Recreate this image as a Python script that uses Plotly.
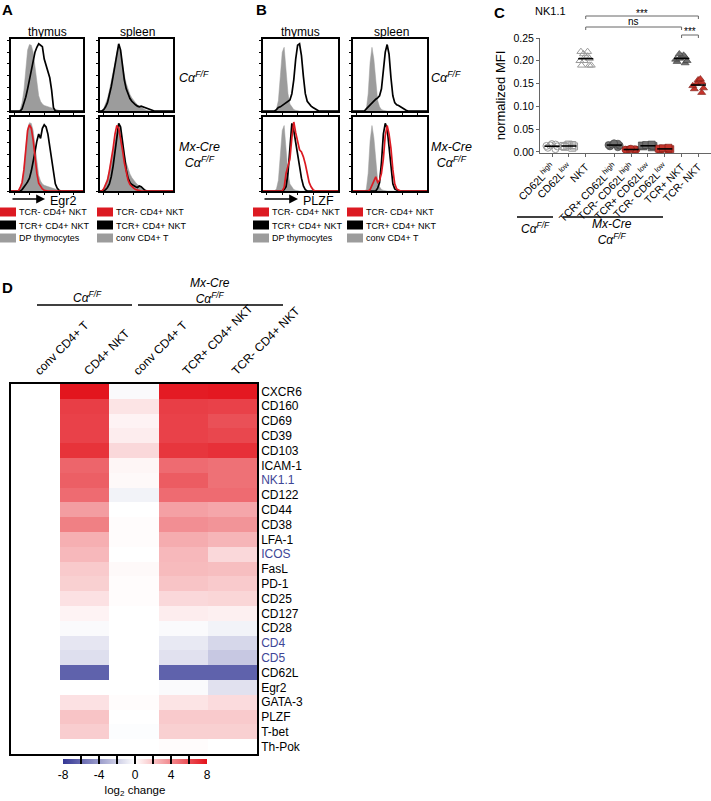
import plotly.graph_objects as go
import numpy as np

W, H = 711, 801
FONT = "Arial, 'Liberation Sans', Helvetica, sans-serif"

# ---------------- Panels A & B: flow histograms (relative cell counts per fluorescence bin)
BINS = list(range(40))

EGR2_THY_DP = [0, 0, 0, 0, 0, 2, 12, 30, 62, 88, 96, 95, 85, 65, 40, 22, 14, 10, 8, 7,
               6, 5, 4, 3, 2, 1, 0, 0, 0, 0, 0, 0, 0, 0, 0, 0, 0, 0, 0, 0]
EGR2_THY_NKT_CTRL = [0, 0, 0, 0, 0, 0, 3, 10, 20, 32, 45, 60, 72, 85, 92, 97, 95, 93, 75, 65,
                     58, 48, 30, 5, 0, 0, 0, 0, 0, 0, 0, 0, 0, 0, 0, 0, 0, 0, 0, 0]
EGR2_SPL_CONV = [0, 1, 4, 10, 18, 30, 42, 55, 70, 85, 94, 85, 65, 52, 40, 30, 24, 19, 15, 12,
                 9, 7, 5, 3, 2, 1, 0, 0, 0, 0, 0, 0, 0, 0, 0, 0, 0, 0, 0, 0]
EGR2_SPL_NKT_CTRL = [0, 0, 2, 6, 12, 22, 35, 50, 68, 85, 97, 88, 62, 45, 32, 24, 18, 14, 11, 9,
                     7, 6, 7, 6, 4, 3, 2, 1, 0, 0, 0, 0, 0, 0, 0, 0, 0, 0, 0, 0]
EGR2_THY_TCRP = [0, 0, 0, 0, 0, 0, 2, 5, 9, 13, 18, 28, 40, 55, 70, 80, 74, 88, 93, 90,
                 80, 62, 45, 22, 10, 4, 1, 0, 0, 0, 0, 0, 0, 0, 0, 0, 0, 0, 0, 0]
EGR2_THY_TCRN = [0, 0, 0, 0, 0, 5, 12, 30, 55, 85, 93, 88, 72, 45, 25, 11, 6, 3, 1, 0,
                 0, 0, 0, 0, 0, 0, 0, 0, 0, 0, 0, 0, 0, 0, 0, 0, 0, 0, 0, 0]
EGR2_SPL_TCRP = [0, 0, 0, 2, 5, 10, 20, 35, 55, 78, 95, 90, 70, 50, 30, 18, 12, 9, 7, 6,
                 5, 7, 6, 3, 1, 0, 0, 0, 0, 0, 0, 0, 0, 0, 0, 0, 0, 0, 0, 0]
EGR2_SPL_TCRN = [0, 0, 3, 8, 15, 28, 42, 60, 80, 92, 88, 75, 58, 40, 25, 15, 9, 6, 4, 2,
                 1, 0, 0, 0, 0, 0, 0, 0, 0, 0, 0, 0, 0, 0, 0, 0, 0, 0, 0, 0]

PLZF_THY_DP = [0, 0, 0, 0, 0, 0, 0, 3, 15, 50, 85, 92, 60, 25, 10, 5, 2, 1, 0, 0,
               0, 0, 0, 0, 0, 0, 0, 0, 0, 0, 0, 0, 0, 0, 0, 0, 0, 0, 0, 0]
PLZF_THY_NKT_CTRL = [0, 0, 0, 0, 0, 0, 0, 2, 5, 6, 8, 9, 11, 13, 16, 25, 45, 75, 95, 97,
                     80, 50, 25, 14, 10, 7, 5, 3, 1, 0, 0, 0, 0, 0, 0, 0, 0, 0, 0, 0]
PLZF_SPL_CONV = [0, 0, 0, 0, 0, 0, 0, 2, 25, 70, 92, 75, 40, 15, 6, 2, 1, 0, 0, 0,
                 0, 0, 0, 0, 0, 0, 0, 0, 0, 0, 0, 0, 0, 0, 0, 0, 0, 0, 0, 0]
PLZF_SPL_NKT_CTRL = [0, 0, 0, 0, 0, 0, 0, 3, 6, 9, 12, 15, 17, 19, 22, 32, 55, 85, 96, 82,
                     48, 22, 12, 9, 8, 6, 4, 2, 1, 0, 0, 0, 0, 0, 0, 0, 0, 0, 0, 0]
PLZF_THY_TCRP = [0, 0, 0, 0, 0, 0, 0, 0, 0, 0, 0, 2, 6, 25, 60, 95, 85, 70, 50, 35,
                 18, 7, 2, 0, 0, 0, 0, 0, 0, 0, 0, 0, 0, 0, 0, 0, 0, 0, 0, 0]
PLZF_THY_TCRN = [0, 0, 0, 0, 0, 0, 0, 0, 0, 0, 0, 5, 25, 35, 45, 75, 97, 82, 70, 58,
                 55, 48, 38, 25, 12, 6, 2, 0, 0, 0, 0, 0, 0, 0, 0, 0, 0, 0, 0, 0]
PLZF_SPL_TCRP = [0, 0, 0, 0, 0, 0, 0, 0, 0, 0, 0, 0, 0, 4, 12, 40, 80, 95, 88, 62,
                 30, 10, 3, 1, 0, 0, 0, 0, 0, 0, 0, 0, 0, 0, 0, 0, 0, 0, 0, 0]
PLZF_SPL_TCRN = [0, 0, 0, 0, 0, 0, 0, 0, 0, 2, 8, 15, 20, 12, 15, 25, 45, 78, 92, 80,
                 60, 30, 10, 3, 1, 0, 0, 0, 0, 0, 0, 0, 0, 0, 0, 0, 0, 0, 0, 0]

LEGEND_LEFT = ["TCR- CD4+ NKT", "TCR+ CD4+ NKT", "DP thymocytes"]
LEGEND_RIGHT = ["TCR- CD4+ NKT", "TCR+ CD4+ NKT", "conv CD4+ T"]

# ---------------- Panel C: NK1.1 normalized MFI
C_CATS = ["CD62L<sup>high</sup>", "CD62L<sup>low</sup>", "NKT",
          "TCR+ CD62L<sup>high</sup>", "TCR- CD62L<sup>high</sup>",
          "TCR+ CD62L<sup>low</sup>", "TCR- CD62L<sup>low</sup>",
          "TCR+ NKT", "TCR- NKT"]
C_VALUES = [
    [0.006, 0.009, 0.012, 0.014, 0.016, 0.017, 0.013],
    [0.009, 0.011, 0.013, 0.014, 0.015, 0.016, 0.012],
    [0.19, 0.19, 0.19, 0.20, 0.20, 0.205, 0.21, 0.21, 0.215, 0.22, 0.22],
    [0.010, 0.012, 0.014, 0.015, 0.016, 0.018, 0.019],
    [0.003, 0.004, 0.005, 0.005, 0.006, 0.006, 0.007],
    [0.010, 0.012, 0.013, 0.014, 0.015, 0.016],
    [0.004, 0.005, 0.006, 0.007, 0.008, 0.009],
    [0.195, 0.198, 0.20, 0.203, 0.205, 0.208, 0.21, 0.212, 0.215],
    [0.13, 0.138, 0.14, 0.145, 0.15, 0.153, 0.158, 0.16],
]
C_YTICKS = [0.0, 0.05, 0.10, 0.15, 0.20, 0.25]

# ---------------- Panel D: heatmap of log2 change
D_MARKERS = ["CXCR6", "CD160", "CD69", "CD39", "CD103", "ICAM-1", "NK1.1", "CD122", "CD44",
             "CD38", "LFA-1", "ICOS", "FasL", "PD-1", "CD25", "CD127", "CD28", "CD4", "CD5",
             "CD62L", "Egr2", "GATA-3", "PLZF", "T-bet", "Th-Pok"]
D_HIGHLIGHT = ["NK1.1", "ICOS", "CD4", "CD5"]
D_COLUMNS = ["conv CD4+ T", "CD4+ NKT", "conv CD4+ T", "TCR+ CD4+ NKT", "TCR- CD4+ NKT"]
D_CONV_CTRL = [0, 0, 0, 0, 0, 0, 0, 0, 0, 0, 0, 0, 0, 0, 0, 0, 0, 0, 0, 0, 0, 0, 0, 0, 0]
D_NKT_CTRL = [7.9, 6.5, 6.4, 6.4, 6.9, 5.2, 5.4, 5.0, 3.3, 4.3, 2.7, 2.4, 1.8, 1.6, 1.0,
              0.4, -0.2, -1.0, -1.3, -6.3, 0.0, 1.0, 2.0, 1.7, 0.0]
D_CONV_MX = [-0.2, 0.9, 0.4, 0.6, 1.3, 0.3, 0.2, -0.5, 0.0, 0.1, 0.1, 0.0, 0.2, 0.1, 0.1,
             0.0, 0.0, 0.0, 0.0, 0.0, 0.0, 0.1, 0.0, -0.1, 0.0]
D_TCRP_MX = [7.7, 6.5, 6.4, 6.4, 6.8, 5.0, 5.5, 5.0, 3.2, 3.8, 2.8, 2.4, 2.3, 2.0, 1.3,
             0.6, -0.2, -0.9, -1.2, -6.3, -0.2, 0.9, 1.8, 1.6, 0.1]
D_TCRN_MX = [7.8, 6.4, 5.9, 6.2, 7.0, 4.8, 4.8, 5.0, 3.0, 3.6, 2.5, 1.3, 2.2, 1.8, 1.4,
             0.5, -0.5, -1.6, -2.2, -6.3, -1.2, 1.2, 1.8, 1.6, 0.0]
D_CBAR_TICKS = [-8, -6, -4, -2, 0, 2, 4, 6, 8]
D_CBAR_LABELS = ["-8", "", "-4", "", "0", "", "4", "", "8"]

# ---------------- styles
RED = "#dc1a22"
GRAYFILL = "#9c9c9c"
BLUE_TXT = "#3d4596"
CFF = "<i>C\u03b1<sup>F/F</sup></i>"
MXCFF = "<i>Mx-Cre<br>C\u03b1<sup>F/F</sup></i>"


def px_x(x):
    return x / W


def px_y(y):
    return 1 - y / H


def ann(text, x, y, size=12, xanchor="center", yanchor="middle", color="black", **kw):
    return dict(text=text, x=px_x(x), y=px_y(y), xref="paper", yref="paper",
                showarrow=False, font=dict(size=size, color=color, family=FONT),
                xanchor=xanchor, yanchor=yanchor, **kw)


def pline(x0, y0, x1, y1, w=1.5, color="black"):
    return dict(type="line", xref="paper", yref="paper", x0=px_x(x0), y0=px_y(y0),
                x1=px_x(x1), y1=px_y(y1), line=dict(color=color, width=w))


def prect(x0, y0, x1, y1, color):
    return dict(type="rect", xref="paper", yref="paper", x0=px_x(x0), y0=px_y(y0),
                x1=px_x(x1), y1=px_y(y1), line=dict(width=0), fillcolor=color)


fig = go.Figure()
layout = {}
shapes = []
annots = []


def axnames(k):
    return ("x" if k == 1 else f"x{k}", "y" if k == 1 else f"y{k}",
            "xaxis" if k == 1 else f"xaxis{k}", "yaxis" if k == 1 else f"yaxis{k}")


hist_panels = [
    ((11, 83, 39, 111), EGR2_THY_DP, EGR2_THY_NKT_CTRL, None),
    ((100, 173, 39, 111), EGR2_SPL_CONV, EGR2_SPL_NKT_CTRL, None),
    ((11, 83, 117, 191), EGR2_THY_DP, EGR2_THY_TCRP, EGR2_THY_TCRN),
    ((100, 173, 117, 191), EGR2_SPL_CONV, EGR2_SPL_TCRP, EGR2_SPL_TCRN),
    ((263, 338, 39, 111), PLZF_THY_DP, PLZF_THY_NKT_CTRL, None),
    ((353, 427, 39, 111), PLZF_SPL_CONV, PLZF_SPL_NKT_CTRL, None),
    ((263, 338, 117, 191), PLZF_THY_DP, PLZF_THY_TCRP, PLZF_THY_TCRN),
    ((353, 427, 117, 191), PLZF_SPL_CONV, PLZF_SPL_TCRP, PLZF_SPL_TCRN),
]

for k, (box, gray, black, red) in enumerate(hist_panels, start=1):
    xa, ya, xk, yk = axnames(k)
    x0, x1, y0, y1 = box
    fig.add_trace(go.Scatter(x=BINS, y=gray, mode="lines", fill="tozeroy",
                             fillcolor=GRAYFILL, line=dict(width=0.5, color=GRAYFILL),
                             xaxis=xa, yaxis=ya, hoverinfo="skip"))
    fig.add_trace(go.Scatter(x=BINS, y=black, mode="lines",
                             line=dict(width=1.7, color="black"),
                             xaxis=xa, yaxis=ya, hoverinfo="skip"))
    if red is not None:
        fig.add_trace(go.Scatter(x=BINS, y=red, mode="lines",
                                 line=dict(width=1.7, color=RED),
                                 xaxis=xa, yaxis=ya, hoverinfo="skip"))
    common = dict(showline=True, mirror=True, linecolor="black", linewidth=1.6,
                  ticks="outside", ticklen=2, tickwidth=1, tickcolor="black",
                  showticklabels=False, showgrid=False, zeroline=False, automargin=False)
    layout[xk] = dict(domain=[px_x(x0), px_x(x1)], anchor=ya, range=[0, 39],
                      dtick=8, tick0=2, **common)
    layout[yk] = dict(domain=[px_y(y1), px_y(y0)], anchor=xa, range=[0, 104],
                      dtick=17, tick0=0, **common)

annots += [
    ann("<b>A</b>", 0, 9, size=15, xanchor="left"),
    ann("<b>B</b>", 254, 9, size=15, xanchor="left"),
    ann("<b>C</b>", 492, 12, size=15, xanchor="left"),
    ann("<b>D</b>", 0, 287, size=15, xanchor="left"),
    ann("thymus", 47, 32, size=12), ann("spleen", 137, 32, size=12),
    ann("thymus", 300, 32, size=12), ann("spleen", 391, 32, size=12),
    ann(CFF, 177, 77, size=12.5, xanchor="left"),
    ann(MXCFF, 177, 155, size=12.5, xanchor="left"),
    ann(CFF, 429, 77, size=12.5, xanchor="left"),
    ann(MXCFF, 429, 155, size=12.5, xanchor="left"),
    ann("Egr2", 48, 201, size=12.5, xanchor="left"),
    ann("PLZF", 301, 201, size=12.5, xanchor="left"),
]
for xh, xt in ((45, 11), (298, 263)):
    annots.append(dict(text="", x=px_x(xh), y=px_y(199), xref="paper", yref="paper",
                       ax=xt - xh, ay=0, showarrow=True, arrowhead=2, arrowsize=1.1,
                       arrowwidth=1.6, arrowcolor="black"))

sw_colors = [RED, "black", GRAYFILL]
leg_rows = [212, 225, 238]
for (sx, labels) in ((0, LEGEND_LEFT), (97, LEGEND_RIGHT), (253, LEGEND_LEFT), (347, LEGEND_RIGHT)):
    for lab, col, yy in zip(labels, sw_colors, leg_rows):
        shapes.append(prect(sx, yy - 4.5, sx + 16, yy + 4.5, col))
        annots.append(ann(lab, sx + 17, yy + 0.5, size=9, xanchor="left"))

# ---------------- Panel C
GAP = 0.7
c_pos = [i + (GAP if i >= 3 else 0) for i in range(len(C_CATS))]
C_STYLE = [
    dict(symbol="circle-open", color="#9a9a9a", line=dict(color="#9a9a9a", width=1)),
    dict(symbol="square-open", color="#9a9a9a", line=dict(color="#9a9a9a", width=1)),
    dict(symbol="triangle-up-open", color="#9a9a9a", line=dict(color="#9a9a9a", width=1)),
    dict(symbol="circle", color="#6f6f6f", line=dict(color="#3a3a3a", width=0.6)),
    dict(symbol="circle", color="#c5342b", line=dict(color="#7a1c16", width=0.6)),
    dict(symbol="square", color="#6f6f6f", line=dict(color="#3a3a3a", width=0.6)),
    dict(symbol="square", color="#c5342b", line=dict(color="#7a1c16", width=0.6)),
    dict(symbol="triangle-up", color="#6f6f6f", line=dict(color="#3a3a3a", width=0.6)),
    dict(symbol="triangle-up", color="#c5342b", line=dict(color="#7a1c16", width=0.6)),
]
for p, vals, st in zip(c_pos, C_VALUES, C_STYLE):
    fig.add_trace(go.Box(x=[p] * len(vals), y=vals, boxpoints="all", jitter=1.0, pointpos=0,
                         width=0.85, fillcolor="rgba(0,0,0,0)",
                         line=dict(width=0, color="rgba(0,0,0,0)"),
                         marker=dict(size=7, **st), xaxis="x9", yaxis="y9",
                         hoveron="points"))
for p, vals in zip(c_pos, C_VALUES):
    m = float(np.mean(vals))
    fig.add_trace(go.Scatter(x=[p - 0.45, p + 0.45], y=[m, m], mode="lines",
                             line=dict(color="black", width=1.6), xaxis="x9", yaxis="y9",
                             hoverinfo="skip"))

layout["xaxis9"] = dict(domain=[px_x(540), 1.0], anchor="y9", range=[-0.72, 9.45],
                        tickvals=c_pos, ticktext=C_CATS, tickangle=-45,
                        tickfont=dict(size=10.5, color="black"), ticks="outside", ticklen=3,
                        tickcolor="#666", showline=True, linecolor="#666", linewidth=1,
                        showgrid=False, zeroline=False, automargin=False)
layout["yaxis9"] = dict(domain=[px_y(153), px_y(38)], anchor="x9", range=[-0.0025, 0.25],
                        tickvals=C_YTICKS, tickformat=".2f", ticks="outside", ticklen=3,
                        tickcolor="#666", showline=True, linecolor="#666", linewidth=1,
                        tickfont=dict(size=10.5, color="black"),
                        title=dict(text="normalized MFI", font=dict(size=13), standoff=4),
                        showgrid=False, zeroline=False, automargin=False)
annots.append(ann("NK1.1", 550, 11, size=11))


def bracket(i0, i1, y, label, ly):
    shapes.append(dict(type="line", xref="x9", yref="paper", x0=c_pos[i0], x1=c_pos[i1],
                       y0=px_y(y), y1=px_y(y), line=dict(color="#666", width=1)))
    for i in (i0, i1):
        shapes.append(dict(type="line", xref="x9", yref="paper", x0=c_pos[i], x1=c_pos[i],
                           y0=px_y(y), y1=px_y(y + 3), line=dict(color="#666", width=1)))
    annots.append(dict(text=label, x=(c_pos[i0] + c_pos[i1]) / 2, y=px_y(ly), xref="x9",
                       yref="paper", showarrow=False, font=dict(size=10, family=FONT),
                       xanchor="center", yanchor="middle"))


bracket(2, 8, 16, "***", 13)
bracket(2, 7, 27, "ns", 22)
bracket(7, 8, 35, "***", 32)

shapes.append(pline(517, 217, 553, 217, w=1.5))
shapes.append(pline(563, 217, 663, 217, w=1.5))
annots.append(ann(CFF, 535, 228, size=12))
annots.append(ann(MXCFF, 612, 232, size=12))

# ---------------- Panel D heatmap
z = np.array([D_CONV_CTRL, D_NKT_CTRL, D_CONV_MX, D_TCRP_MX, D_TCRN_MX]).T
col_idx = list(range(len(D_COLUMNS)))
fig.add_trace(go.Heatmap(
    z=z, x=col_idx, y=D_MARKERS, xaxis="x10", yaxis="y10", zmin=-8, zmax=8,
    colorscale=[[0, "#343795"], [0.5, "#ffffff"], [1, "#e3121b"]],
    colorbar=dict(orientation="h", x=px_x(135), xanchor="center", y=px_y(759),
                  yanchor="top", len=144 / W, lenmode="fraction", thickness=5,
                  thicknessmode="pixels", outlinewidth=0, ticks="inside", ticklen=8,
                  tickwidth=1.5, tickcolor="black", tickvals=D_CBAR_TICKS,
                  ticktext=D_CBAR_LABELS, tickfont=dict(size=12, family=FONT),
                  title=dict(text="log<sub>2</sub> change", side="bottom",
                             font=dict(size=11.5, family=FONT)),
                  xpad=0, ypad=0)))
row_text = [f'<span style="color:{BLUE_TXT}">{m}</span>' if m in D_HIGHLIGHT else m
            for m in D_MARKERS]
layout["xaxis10"] = dict(domain=[px_x(11), px_x(257)], anchor="y10", side="top",
                         range=[-0.5, 4.5], tickvals=col_idx, ticktext=D_COLUMNS,
                         tickangle=-45, tickfont=dict(size=12, color="black"), ticks="",
                         showline=True, mirror=True, linecolor="black", linewidth=1.6,
                         showgrid=False, zeroline=False, automargin=False)
layout["yaxis10"] = dict(domain=[px_y(754), px_y(384)], anchor="x10", side="right",
                         categoryorder="array", categoryarray=D_MARKERS,
                         autorange="reversed", tickvals=D_MARKERS, ticktext=row_text,
                         tickfont=dict(size=12, color="black"), ticks="",
                         showline=True, mirror=True, linecolor="black", linewidth=1.6,
                         showgrid=False, zeroline=False, automargin=False)
shapes.append(pline(37, 305, 132, 305, w=1.5))
shapes.append(pline(138, 305, 283, 305, w=1.5))
annots.append(ann(CFF, 87, 297, size=12))
annots.append(ann(MXCFF, 210, 291, size=12))

fig.update_layout(width=W, height=H, margin=dict(l=0, r=0, t=0, b=0), template="none",
                  plot_bgcolor="white", paper_bgcolor="white", showlegend=False,
                  font=dict(family=FONT, color="black"), shapes=shapes,
                  annotations=annots, **layout)
fig.write_html("out.html", config={"displayModeBar": False},
               post_script="document.body.style.margin='0';document.body.style.overflow='hidden';")
